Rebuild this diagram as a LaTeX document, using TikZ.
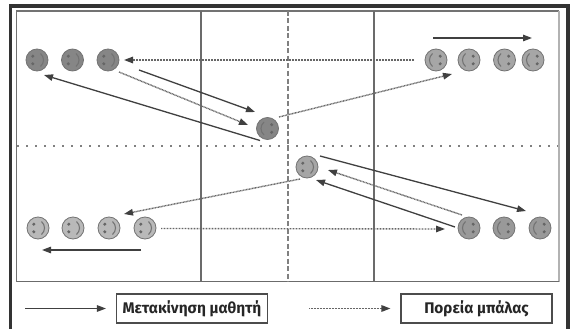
\documentclass[tikz,border=0pt]{standalone}
\usepackage{fontspec}
\setmainfont{Fira Sans}
\usetikzlibrary{arrows.meta}
\definecolor{frameink}{gray}{0.2}
\definecolor{fieldink}{gray}{0.42}
\definecolor{arrowink}{gray}{0.25}
\definecolor{dotink}{gray}{0.4}
\tikzset{
  x=1pt,y=-1pt,
  face/.style={circle,draw=gray!90!black,line width=.8pt,minimum size=22pt,inner sep=0pt},
  facefeature/.style={draw=black!55,line width=1.1pt},
  move/.style={draw=arrowink,line width=1.3pt,-{Triangle[length=9pt,width=6.5pt]}},
  ball/.style={draw=dotink,line width=1.4pt,dash pattern=on .9pt off .6pt,-{Triangle[length=9pt,width=6.5pt,color=arrowink,fill=arrowink]}},
  legendbox/.style={draw=black!70,line width=1.1pt,minimum width=151pt,minimum height=29pt,inner sep=0pt,font=\bfseries\fontsize{15.4}{17}\selectfont,text=black!85},
  fieldline/.style={draw=fieldink,line width=1.2pt}
}
% right-smiling face: eyes left, mouth right
\newcommand{\faceR}[4]{%
  \node[face,fill=#4] (#1) at (#2,#3) {};
  \begin{scope}[shift={(#1.center)}]
  \fill[black!60] (-4.2,-3.8) circle (1.7);
  \fill[black!60] (-4.2,3.8) circle (1.7);
  \draw[facefeature] (3.5,-6.5) .. controls (7.5,-3) and (7.5,3) .. (3.5,6.5);
  \end{scope}
}
% left-smiling face: eyes right, mouth left
\newcommand{\faceL}[4]{%
  \node[face,fill=#4] (#1) at (#2,#3) {};
  \begin{scope}[shift={(#1.center)}]
  \fill[black!60] (4.2,-3.8) circle (1.7);
  \fill[black!60] (4.2,3.8) circle (1.7);
  \draw[facefeature] (-3.5,-6.5) .. controls (-7.5,-3) and (-7.5,3) .. (-3.5,6.5);
  \end{scope}
}
\begin{document}
\begin{tikzpicture}
\useasboundingbox (0,0) rectangle (570,329);
\fill[white] (0,0) rectangle (570,329);
% outer frame
\draw[frameink,line width=3.5pt] (10.5,329) -- (10.5,6) -- (568,6) -- (568,329);
% field
\draw[black!55,line width=1.2pt] (16.5,281.5) -- (16.5,11) -- (559,11);
\draw[black!30,line width=2pt] (559,11) -- (559,281.5);
\draw[fieldline] (16.5,281.5) -- (559,281.5);
\draw[fieldline] (201,11) -- (201,281.5);
\draw[fieldline] (374,11) -- (374,281.5);
\draw[draw=black!50,line width=2pt,dash pattern=on 5pt off 2.5pt] (288,11) -- (288,281.5);
\draw[draw=black!50,line width=1.5pt,dash pattern=on 1.5pt off 7.5pt] (17,146) -- (558,146);
% players
\faceR{a1}{37}{60}{gray!95}
\faceR{a2}{72.5}{60}{gray!95}
\faceR{a3}{108}{60}{gray!95}
\faceL{c1}{267.5}{128.5}{gray!95}
\faceL{b1}{436}{60}{gray!70}
\faceL{b2}{469}{60}{gray!70}
\faceL{b3}{504.5}{60}{gray!70}
\faceL{b4}{533}{60}{gray!70}
\faceR{c2}{307}{167}{gray!70}
\faceR{d1}{38}{228}{gray!55}
\faceR{d2}{73}{228}{gray!55}
\faceR{d3}{109}{228}{gray!55}
\faceR{d4}{145}{228}{gray!55}
\faceL{e1}{469}{228}{gray!80}
\faceL{e2}{504}{228}{gray!80}
\faceL{e3}{540}{228}{gray!80}
% connector ends
\coordinate (k1) at (260,140.5);
\coordinate (k2) at (44,75);
\coordinate (k3) at (139,70);
\coordinate (k4) at (255,112);
\coordinate (k5) at (119,72);
\coordinate (k6) at (248,125);
\coordinate (k7) at (414,60);
\coordinate (k8) at (124,60);
\coordinate (k9) at (279,117);
\coordinate (k10) at (452,74);
\coordinate (k11) at (433,38);
\coordinate (k12) at (532,38);
\coordinate (k13) at (300,179);
\coordinate (k14) at (124,214);
\coordinate (k15) at (161,228.5);
\coordinate (k16) at (445,229);
\coordinate (k17) at (141,250);
\coordinate (k18) at (42,250);
\coordinate (k19) at (320,156);
\coordinate (k20) at (526,211);
\coordinate (k21) at (462,215);
\coordinate (k22) at (328,170);
\coordinate (k23) at (455,227);
\coordinate (k24) at (316,180);
\draw[move] (k1) -- (k2);
\draw[move] (k3) -- (k4);
\draw[ball] (k5) -- (k6);
\draw[ball] (k7) -- (k8);
\draw[ball] (k9) -- (k10);
\draw[move] (k11) -- (k12);
\draw[ball] (k13) -- (k14);
\draw[ball] (k15) -- (k16);
\draw[move] (k17) -- (k18);
\draw[move] (k19) -- (k20);
\draw[ball] (k21) -- (k22);
\draw[move] (k23) -- (k24);
% legend
\node[legendbox] (mv) at (192,308.5) {Μετακίνηση μαθητή};
\node[legendbox] (bl) at (476.5,308.5) {Πορεία μπάλας};
\coordinate (l1) at (25,308.5);
\coordinate (l2) at (309,308.5);
\draw[move,shorten >=10pt] (l1) -- (mv.west);
\draw[ball,shorten >=10pt] (l2) -- (bl.west);
\end{tikzpicture}
\end{document}
